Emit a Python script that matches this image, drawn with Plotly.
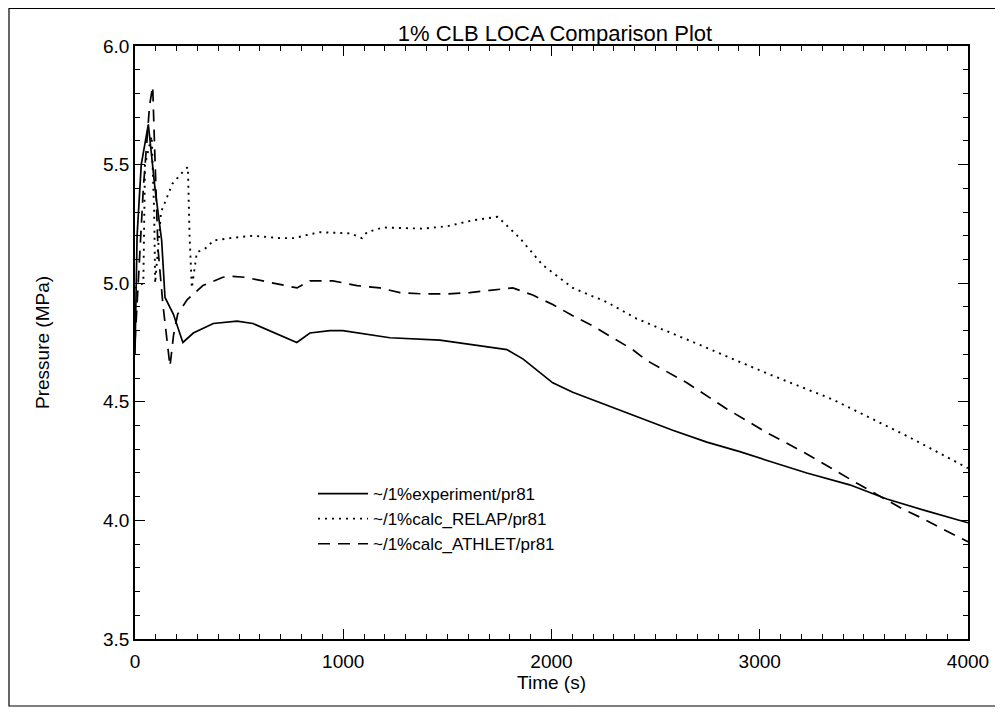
import plotly.graph_objects as go

# ---- data ----
exp_t = [0, 10, 30, 64, 96, 110, 128, 144, 184, 230, 280, 376, 490, 566, 696, 777, 840, 936, 998,
         1224, 1464, 1704, 1786, 1864, 1944, 2006, 2102, 2266, 2424, 2582, 2746, 2904, 3062, 3226,
         3432, 3610, 3800, 4000]
exp_p = [4.70, 5.20, 5.50, 5.67, 5.40, 5.30, 5.18, 4.94, 4.87, 4.75, 4.79, 4.83, 4.84, 4.83, 4.78,
         4.75, 4.79, 4.80, 4.80, 4.77, 4.76, 4.73, 4.72, 4.68, 4.625, 4.58, 4.54, 4.485, 4.435, 4.38,
         4.33, 4.29, 4.245, 4.20, 4.15, 4.09, 4.04, 3.99]

relap_t = [0, 40, 48, 80, 92, 97, 125, 180, 230, 254, 262, 273, 297, 344, 376, 456, 566, 696, 768,
           808, 888, 1032, 1090, 1114, 1190, 1382, 1498, 1622, 1742, 1848, 1958, 2102, 2266, 2410,
           2712, 3034, 3350, 3720, 4000]
relap_p = [4.98, 5.00, 5.50, 5.62, 5.30, 5.00, 5.30, 5.42, 5.47, 5.49, 5.20, 4.98, 5.13, 5.15, 5.18,
           5.19, 5.20, 5.19, 5.19, 5.20, 5.215, 5.21, 5.19, 5.215, 5.235, 5.23, 5.24, 5.265, 5.28,
           5.19, 5.076, 4.98, 4.92, 4.85, 4.74, 4.62, 4.51, 4.35, 4.22]

athlet_t = [0, 40, 70, 85, 95, 110, 134, 150, 168, 185, 205, 250, 288, 326, 422, 456, 528, 634, 778,
            840, 950, 1066, 1176, 1272, 1382, 1498, 1608, 1704, 1814, 1910, 2006, 2098, 2198, 2294,
            2390, 2456, 2650, 2842, 3034, 3226, 3398, 3480, 3682, 3778, 3864, 3960, 4000]
athlet_p = [4.75, 5.40, 5.75, 5.83, 5.55, 5.15, 4.91, 4.78, 4.65, 4.78, 4.87, 4.93, 4.96, 4.99, 5.025,
            5.03, 5.025, 5.005, 4.98, 5.01, 5.01, 4.99, 4.98, 4.96, 4.955, 4.955, 4.96, 4.97, 4.98,
            4.95, 4.91, 4.865, 4.82, 4.77, 4.72, 4.675, 4.58, 4.47, 4.37, 4.28, 4.19, 4.15, 4.05,
            4.01, 3.97, 3.93, 3.91]

names = ["~/1%experiment/pr81", "~/1%calc_RELAP/pr81", "~/1%calc_ATHLET/pr81"]
title = "1% CLB LOCA Comparison Plot"
x_title = "Time (s)"
y_title = "Pressure (MPa)"
x_ticks = [0, 1000, 2000, 3000, 4000]
y_ticks = [3.5, 4.0, 4.5, 5.0, 5.5, 6.0]

FONT = "Liberation Sans, Arial, Helvetica, sans-serif"

# figure geometry (page body adds an 8px offset)
W, H = 995, 711
L, T, PW, PH = 127, 38, 833, 593
R, B = W - L - PW, H - T - PH

fig = go.Figure()
fig.add_trace(go.Scatter(x=exp_t, y=exp_p, mode="lines", name=names[0],
                         line=dict(color="black", width=1.7, dash="solid")))
fig.add_trace(go.Scatter(x=relap_t, y=relap_p, mode="lines", name=names[1],
                         line=dict(color="black", width=1.9, dash="2px,5px")))
fig.add_trace(go.Scatter(x=athlet_t, y=athlet_p, mode="lines", name=names[2],
                         line=dict(color="black", width=1.7, dash="12px,8px")))

axis_common = dict(
    showgrid=False, zeroline=False, showline=True, linecolor="black", linewidth=1.5,
    mirror="allticks", ticks="inside", ticklen=10, tickwidth=1, tickcolor="black",
    tickfont=dict(family=FONT, size=19, color="black"),
)

fig.update_xaxes(range=[0, 4000], tickvals=x_ticks,
                 minor=dict(dtick=100, ticks="inside", ticklen=5, tickcolor="black", tickwidth=1),
                 ticklabelstandoff=4,
                 title=dict(text=x_title, font=dict(family=FONT, size=19, color="black"), standoff=2),
                 **axis_common)
fig.update_yaxes(range=[3.5, 6.0], tickvals=y_ticks, tickformat=".1f",
                 minor=dict(dtick=0.1, ticks="inside", ticklen=5, tickcolor="black", tickwidth=1),
                 title=dict(text=y_title, font=dict(family=FONT, size=19, color="black"), standoff=48),
                 **axis_common)

fig.update_layout(
    width=W, height=H,
    paper_bgcolor="white", plot_bgcolor="white",
    margin=dict(l=L, r=R, t=T, b=B, autoexpand=False),
    title=dict(text=title, x=(555 - 8) / W, xanchor="center", y=1 - 25 / H, yanchor="middle",
               font=dict(family=FONT, size=22, color="black")),
    showlegend=True,
    legend=dict(x=(313 - 8 - L) / PW, y=(T + PH - (476 - 8)) / PH, xanchor="left", yanchor="top",
                bgcolor="rgba(0,0,0,0)", borderwidth=0, itemwidth=50,
                font=dict(family=FONT, size=17, color="black"),
                tracegroupgap=0),
    shapes=[dict(type="rect", xref="paper", yref="paper",
                 x0=(1 - L) / PW, x1=(990 - L) / PW,
                 y0=(T + PH - 698) / PH, y1=(T + PH - 0.5) / PH,
                 line=dict(color="black", width=1.2))],
)

fig.write_html("out.html")
